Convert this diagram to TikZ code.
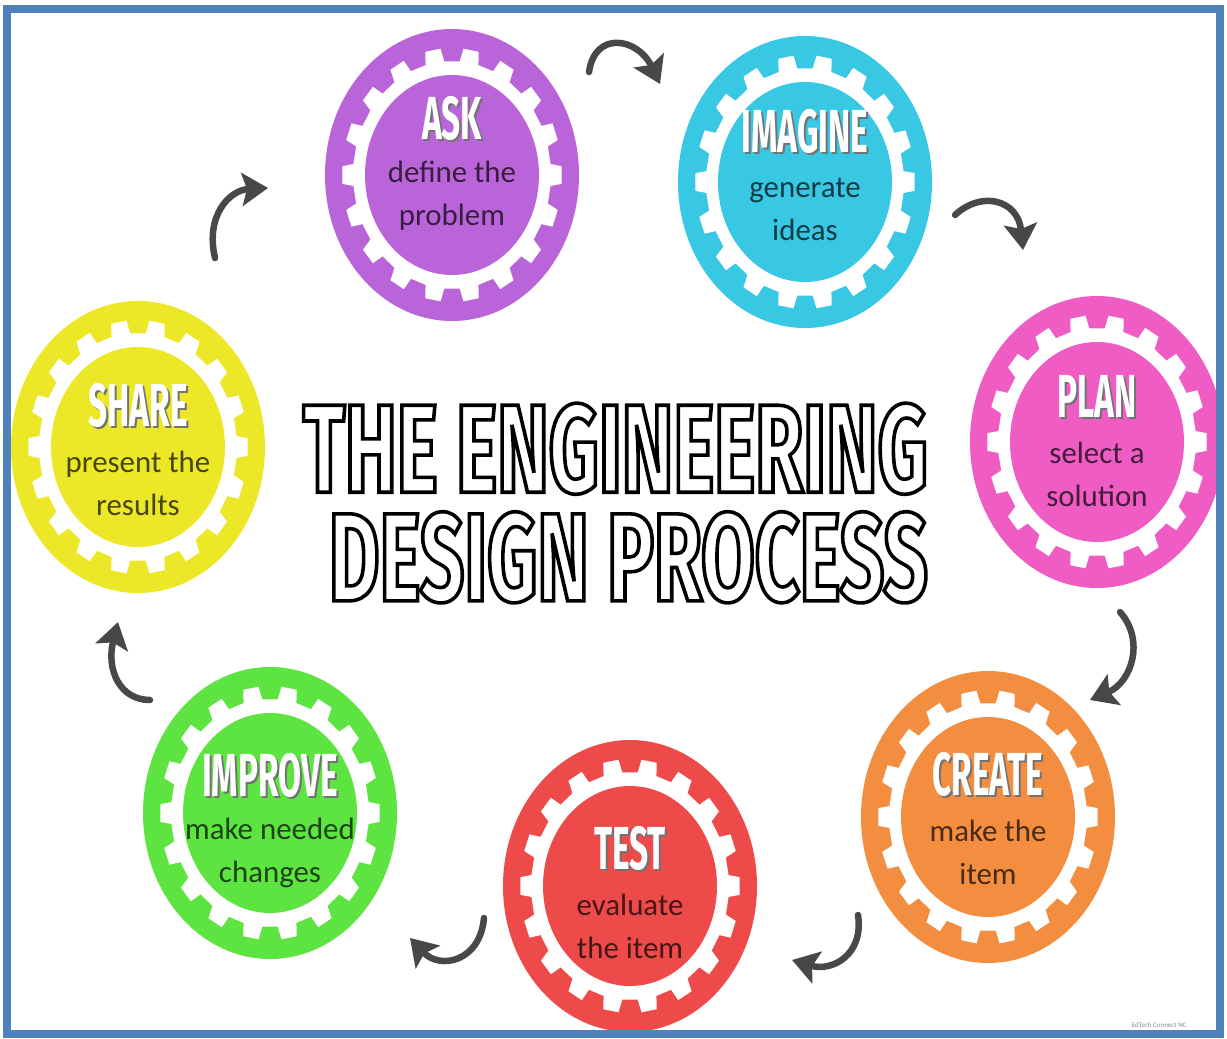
\documentclass[tikz,border=0pt]{standalone}
\usepackage{fontspec}
\usetikzlibrary{arrows.meta,shapes.geometric,positioning}

\setmainfont{Carlito}
\newfontfamily\headfont{Fira Sans}[FakeStretch=0.55]
\newfontfamily\titlefont{Fira Sans}[FakeStretch=0.62]

\definecolor{askc}{RGB}{186,100,218}
\definecolor{imaginec}{RGB}{56,200,228}
\definecolor{planc}{RGB}{238,92,196}
\definecolor{createc}{RGB}{243,142,64}
\definecolor{testc}{RGB}{238,74,74}
\definecolor{improvec}{RGB}{94,228,64}
\definecolor{sharec}{RGB}{236,232,40}
\definecolor{framec}{RGB}{79,129,189}
\definecolor{arrowc}{RGB}{72,72,72}

\tikzset{
  stage/.style={ellipse, minimum width=254bp, minimum height=292bp, inner sep=0pt},
  heading/.style={font=\headfont\bfseries\fontsize{61}{61}\selectfont, inner sep=0pt},
  subtext/.style={font=\fontsize{31}{43}\selectfont, align=center, inner sep=0pt},
  titletext/.style={font=\titlefont\bfseries\fontsize{126}{109}\selectfont,
    align=right, inner sep=0pt},
  cyc/.style={line width=6.5bp, draw=arrowc, line cap=round,
    -{Stealth[length=26bp,width=33bp,inset=5bp]}}
}

% one coloured gear: name, centre, colour, heading lift, heading, two text lines
\newcommand\gearstage[7]{%
  \node[stage, fill=#3] (#1) at (#2) {};
  \fill[white, shift={(#1.center)}] (-5.5:99 and 114)
    \foreach \a in {0,20,...,340} {
      -- (\a-5.5:99 and 114) -- (\a-4:110 and 127)
      -- (\a+4:110 and 127) -- (\a+5.5:99 and 114)}
    -- cycle;
  \fill[#3] (#1.center) ellipse (87 and 100);
  \node[heading, text=black!55] (#1-s) at ([xshift=2bp,yshift=#4bp-2bp]#1.center) {#5};
  \node[heading, text=white] (#1-h) at ([yshift=#4bp]#1.center) {#5};
  \node[subtext, text=#3!30!black] (#1-t) at ([yshift=-78bp]#1-h.center) {#6\\#7};
}

% hollow lettering: glyphs stroked, not filled
\newcommand\hollow[1]{\special{pdf:code 1 Tr 3.6 w}#1\special{pdf:code 0 Tr}}

\begin{document}
\begin{tikzpicture}[x=1bp,y=-1bp]
  \useasboundingbox (0,0) rectangle (1227,1039);
  \fill[white] (0,0) rectangle (1227,1039);

  \gearstage{ask}{452,175}{askc}{57}{ASK}{define the}{problem}
  \gearstage{imagine}{805,182}{imaginec}{51}{IMAGINE}{generate}{ideas}
  \gearstage{plan}{1097,442}{planc}{46}{PLAN}{select a}{solution}
  \gearstage{create}{988,817}{createc}{43}{CREATE}{make the}{item}
  \gearstage{test}{630,886}{testc}{38}{TEST}{evaluate}{the item}
  \gearstage{improve}{270,813}{improvec}{38}{IMPROVE}{make needed}{changes}
  \gearstage{share}{138,447}{sharec}{42}{SHARE}{present the}{results}

  % title
  \node[titletext, anchor=east] (title) at (928,503)
    {\hollow{THE ENGINEERING}\\\hollow{DESIGN PROCESS}};

  % arrows between the stages
  \coordinate (c1a) at (589,72);   \coordinate (c1b) at (660,84);
  \coordinate (c2a) at (955,215);  \coordinate (c2b) at (1023,250);
  \coordinate (c3a) at (1120,612); \coordinate (c3b) at (1090,700);
  \coordinate (c4a) at (858,915);  \coordinate (c4b) at (792,960);
  \coordinate (c5a) at (484,918);  \coordinate (c5b) at (410,938);
  \coordinate (c6a) at (150,700);  \coordinate (c6b) at (118,622);
  \coordinate (c7a) at (215,258);  \coordinate (c7b) at (268,188);
  \draw[cyc] (c1a) .. controls (595,30) and (638,38) .. (c1b);
  \draw[cyc] (c2a) .. controls (982,190) and (1018,200) .. (c2b);
  \draw[cyc] (c3a) .. controls (1145,640) and (1132,682) .. (c3b);
  \draw[cyc] (c4a) .. controls (864,955) and (832,972) .. (c4b);
  \draw[cyc] (c5a) .. controls (480,962) and (440,970) .. (c5b);
  \draw[cyc] (c6a) .. controls (120,700) and (106,670) .. (c6b);
  \draw[cyc] (c7a) .. controls (205,215) and (230,190) .. (c7b);

  \node[font=\fontsize{7}{8}\selectfont, text=black!45, anchor=east] (credit)
    at (1190,1025) {EdTech Connect NC};

  \draw[framec, line width=8bp] (7,9) rectangle (1220,1034);
\end{tikzpicture}
\end{document}
